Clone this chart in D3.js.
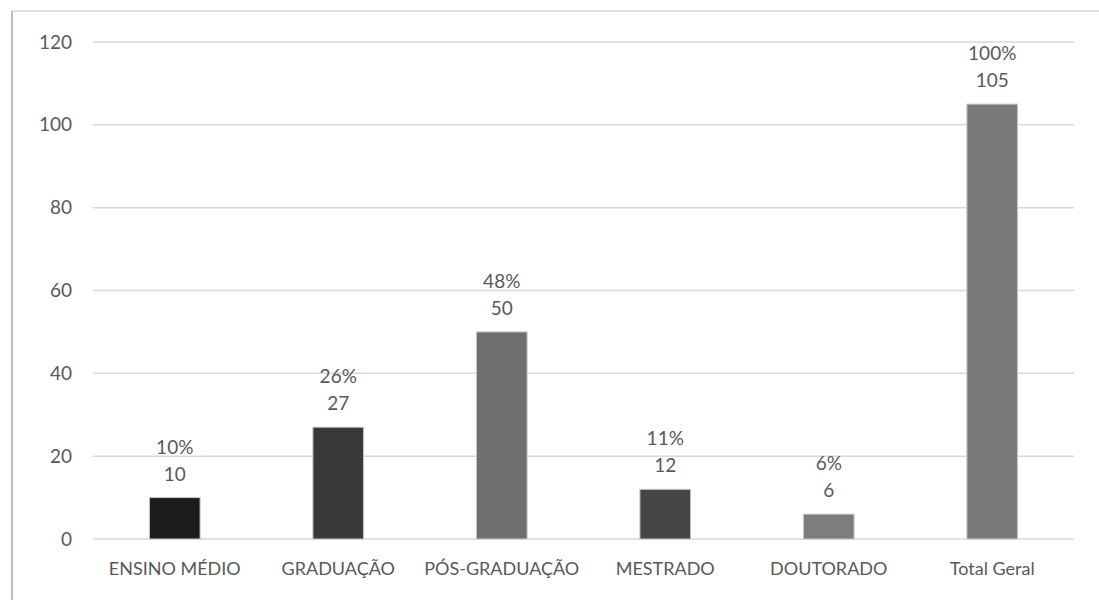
<!DOCTYPE html>
<html><head><meta charset="utf-8">
<script src="https://cdn.jsdelivr.net/npm/d3@7"></script>
<style>body{margin:0;background:#fff;}svg{display:block;}</style>
</head><body>
<svg id="c" width="1099" height="600"></svg>
<script>
const categories = ["ENSINO MÉDIO","GRADUAÇÃO","PÓS-GRADUAÇÃO","MESTRADO","DOUTORADO","Total Geral"];
const values = [10, 27, 50, 12, 6, 105];
const percents = ["10%","26%","48%","11%","6%","100%"];
const barColors = ["#1c1c1c","#393939","#6f6f6f","#454545","#7d7d7d","#7a7a7a"];
const yTicks = [0,20,40,60,80,100,120];

const svg = d3.select("#c");
const font = "Lato, 'Open Sans', sans-serif";
const textColor = "#595959";

// frame
svg.append("line").attr("x1",12).attr("x2",1099).attr("y1",11).attr("y2",11).attr("stroke","#d4d4d4").attr("stroke-width",1.5);
svg.append("line").attr("x1",12).attr("x2",12).attr("y1",11).attr("y2",600).attr("stroke","#bdbdbd").attr("stroke-width",2);

const x = d3.scaleBand().domain(categories).range([93,1074]).paddingInner(0.69).paddingOuter(0.345);
const y = d3.scaleLinear().domain([0,120]).range([539,42]);

// gridlines
svg.append("g").selectAll("line").data(yTicks).join("line")
  .attr("x1",93).attr("x2",1074)
  .attr("y1",d=>y(d)).attr("y2",d=>y(d))
  .attr("stroke","#d9d9d9").attr("stroke-width",1.5);

// y axis labels
const yAxis = svg.append("g").attr("transform","translate(80,0)")
  .call(d3.axisLeft(y).tickValues(yTicks).tickSize(0).tickPadding(8));
yAxis.select(".domain").remove();
yAxis.selectAll("text").attr("font-family",font).attr("font-size",19).attr("fill",textColor);

// x axis labels
const xAxis = svg.append("g").attr("transform","translate(0,539)")
  .call(d3.axisBottom(x).tickSize(0).tickPadding(23));
xAxis.select(".domain").remove();
xAxis.selectAll("text").attr("font-family",font).attr("font-size",18).attr("fill",textColor);

// bars
svg.append("g").selectAll("rect").data(values).join("rect")
  .attr("x",(d,i)=>x(categories[i]))
  .attr("width",x.bandwidth())
  .attr("y",d=>y(d))
  .attr("height",d=>y(0)-y(d))
  .attr("fill",(d,i)=>barColors[i])
  .attr("stroke","#c8c8c8").attr("stroke-width",1);

// value labels
const lbl = svg.append("g").attr("font-family",font).attr("font-size",19).attr("fill",textColor).attr("text-anchor","middle");
lbl.selectAll("text.v").data(values).join("text").attr("class","v")
  .attr("x",(d,i)=>x(categories[i])+x.bandwidth()/2)
  .attr("y",d=>y(d)-17)
  .text(d=>d);
lbl.selectAll("text.p").data(values).join("text").attr("class","p")
  .attr("x",(d,i)=>x(categories[i])+x.bandwidth()/2)
  .attr("y",d=>y(d)-44)
  .text((d,i)=>percents[i]);
</script>
</body></html>
